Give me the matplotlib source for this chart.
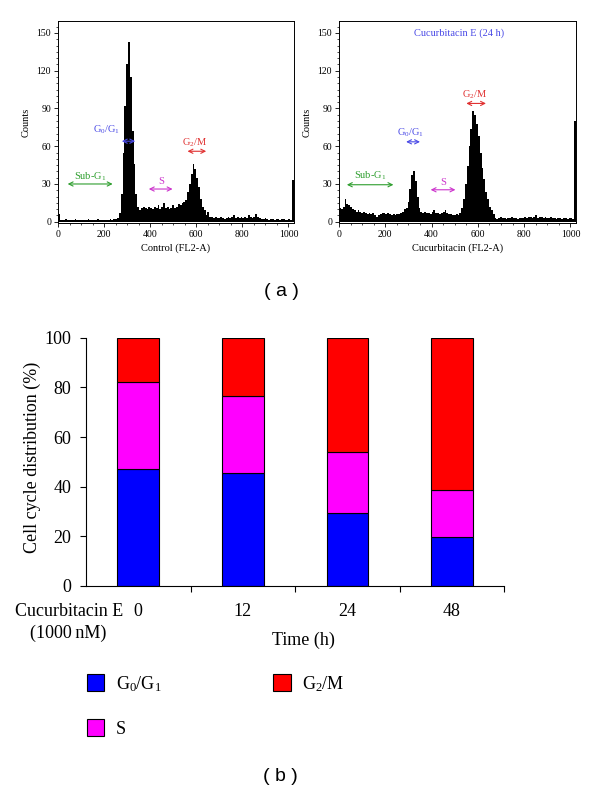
import numpy as np
import matplotlib
matplotlib.use('Agg')
import matplotlib.pyplot as plt
from matplotlib.ticker import MultipleLocator
from matplotlib.patches import Patch

plt.rcParams['font.family'] = ['Liberation Serif', 'DejaVu Serif']

# flow cytometry histograms, counts per 8-channel bin (channels 0-1024)
bin_width = 8
control_counts = ([6] +
                  [1, 1, 1, 2, 1, 1, 1, 1, 2, 1, 1, 1, 1, 1, 1, 2, 1, 1, 1, 1, 2, 1, 1, 1, 1, 1, 1, 2, 1, 2, 2] +
                  [3, 7, 22, 55, 92, 125, 143, 115, 72, 46, 22, 12] +
                  [9, 11, 12, 11, 10, 12, 11, 10, 12, 11, 13, 10, 12, 15, 11, 12, 10, 11, 13, 11, 12, 14] +
                  [13, 15, 16, 17, 24, 30, 38, 46, 42, 35, 28, 18, 12, 9, 5, 8, 4] +
                  [4, 3, 4, 3, 3, 4, 3, 2, 3, 4, 3, 4, 5, 3, 4, 3, 4, 3, 4, 3, 5, 4, 3, 4, 6, 4, 3] +
                  [2, 2, 3, 2, 1, 2, 2, 1, 2, 2, 1, 2, 2, 1, 1, 2, 1] +
                  [33])
cucurbitacin_counts = ([11, 10, 12, 18, 14, 13, 12, 10] +
                       [9, 8, 9, 8, 7, 8, 7, 6, 7, 6, 7, 5, 4] +
                       [5, 6, 7, 7, 6, 7, 6] +
                       [5, 6, 5, 6, 6, 7] +
                       [8, 10, 11, 16, 26, 37, 40, 32, 20, 11] +
                       [8, 7, 8, 7, 7, 6, 8, 9, 7, 7, 6, 7, 8, 9, 7, 6] +
                       [6, 5, 5, 6, 5] +
                       [7, 11, 18, 30, 44, 60, 74, 88, 85, 78, 68, 55, 43, 34, 24, 18, 12, 9, 6] +
                       [3, 2, 3, 4, 3, 3, 2, 3, 3, 4, 3, 3, 2, 3, 3, 3, 4, 3, 4, 4, 3, 4, 5, 3, 4,
                        4, 3, 4, 3, 3, 4, 3, 3, 2, 3, 3, 2, 3, 3, 2, 3, 3, 2] +
                       [80])

# gate markers: label, color, text x, text y, arrow start, arrow end, arrow y
control_marks = [
    ('Sub-G$\\mathregular{_1}$', '#2e9e2e', 139, 35.4, 42, 237, 30),
    ('G$\\mathregular{_0}$/G$\\mathregular{_1}$', '#4a4ae6', 211, 73, 277, 335, 64),
    ('S', '#cc33cc', 446, 32, 394, 497, 26),
    ('G$\\mathregular{_2}$/M', '#e03030', 594, 63, 562, 643, 56),
]
cucurbitacin_marks = [
    ('Sub-G$\\mathregular{_1}$', '#2e9e2e', 135, 36.5, 34, 235, 29.4),
    ('G$\\mathregular{_0}$/G$\\mathregular{_1}$', '#4a4ae6', 311, 70.4, 290, 350, 63.5),
    ('S', '#cc33cc', 450, 31, 396, 503, 25.4),
    ('G$\\mathregular{_2}$/M', '#e03030', 587, 100.8, 550, 635, 94),
]

# stacked bar data (%)
times = ['0', '12', '24', '48']
g0g1 = [47.1, 45.4, 29.5, 19.7]
s_phase = [35.2, 31.0, 24.6, 19.1]
g2m = [17.7, 23.6, 45.9, 61.2]

fig = plt.figure(figsize=(6, 7.91), dpi=100)


def draw_hist(rect, counts, xlabel, marks, title=None):
    ax = fig.add_axes(rect)
    edges = np.arange(len(counts) + 1) * bin_width
    ax.stairs(counts, edges, fill=True, color='black', baseline=0)
    ax.set_xlim(0, 1024)
    ax.set_ylim(-1, 159.5)
    ax.set_xticks([0, 200, 400, 600, 800, 1000])
    ax.set_yticks([0, 30, 60, 90, 120, 150])
    ax.xaxis.set_minor_locator(MultipleLocator(50))
    ax.yaxis.set_minor_locator(MultipleLocator(5))
    ax.tick_params(which='major', labelsize=7, length=3, width=0.6, pad=2)
    ax.tick_params(which='minor', length=1.6, width=0.5)
    for sp in ax.spines.values():
        sp.set_linewidth(0.7)
    ax.set_xlabel(xlabel, fontsize=7.5, labelpad=3)
    ax.set_ylabel('Counts', fontsize=7.5, labelpad=4)
    for label, col, tx, ty, x0, x1, ay in marks:
        ax.text(tx, ty, label, color=col, fontsize=7.5, ha='center', va='center')
        ax.annotate('', xy=(x0, ay), xytext=(x1, ay),
                    arrowprops=dict(arrowstyle='<->,head_length=0.3,head_width=0.15',
                                    color=col, lw=0.8, shrinkA=0, shrinkB=0))
    if title:
        ax.text(519, 150, title, color='#4a4ae6', fontsize=7.5, ha='center', va='center')
    return ax


draw_hist([58 / 600, 1 - 223 / 791, 236 / 600, 202 / 791], control_counts,
          'Control (FL2-A)', control_marks)
draw_hist([339 / 600, 1 - 223 / 791, 237 / 600, 202 / 791], cucurbitacin_counts,
          'Cucurbitacin (FL2-A)', cucurbitacin_marks, title='Cucurbitacin E (24 h)')

fig.text(281.7 / 600, 1 - 291.7 / 791, '( a )', family='Liberation Sans',
         fontsize=14, ha='center', va='center')

# stacked bars
ax = fig.add_axes([86 / 600, 1 - 586 / 791, 418.3 / 600, 248.3 / 791])
x = np.arange(len(times))
w = 0.4
bottom2 = np.array(g0g1) + np.array(s_phase)
ax.bar(x, g0g1, w, color='#0000ff', edgecolor='black', linewidth=0.8)
ax.bar(x, s_phase, w, bottom=g0g1, color='#ff00ff', edgecolor='black', linewidth=0.8)
ax.bar(x, g2m, w, bottom=bottom2, color='#ff0000', edgecolor='black', linewidth=0.8)
ax.set_xlim(-0.5, 3.5)
ax.set_ylim(0, 100)
ax.set_yticks([0, 20, 40, 60, 80, 100])
ax.set_xticks(x)
ax.set_xticklabels(times)
ax.set_xticks([0.5, 1.5, 2.5, 3.5], minor=True)
ax.tick_params(axis='x', which='major', length=0, pad=12, labelsize=13)
ax.tick_params(axis='x', which='minor', length=4.5, width=0.8)
ax.tick_params(axis='y', length=4.5, width=0.8, pad=6, labelsize=13)
ax.spines['top'].set_visible(False)
ax.spines['right'].set_visible(False)
ax.spines['left'].set_linewidth(0.8)
ax.spines['bottom'].set_linewidth(0.8)

fig.text(32 / 600, 1 - 457.5 / 791, 'Cell cycle distribution (%)', rotation=90,
         fontsize=13, ha='center', va='center')
fig.text(69.5 / 600, 1 - 611.7 / 791, 'Cucurbitacin E', fontsize=13, ha='center', va='center')
fig.text(68 / 600, 1 - 633 / 791, '(1000\u2009nM)', fontsize=13, ha='center', va='center',
         family=['Liberation Serif', 'DejaVu Serif'])
fig.text(303 / 600, 1 - 640 / 791, 'Time (h)', fontsize=13, ha='center', va='center')

handles = [Patch(facecolor='#0000ff', edgecolor='black', linewidth=0.8,
                 label='G$\\mathregular{_0}$/G$\\mathregular{_1}$'),
           Patch(facecolor='#ff00ff', edgecolor='black', linewidth=0.8, label='S'),
           Patch(facecolor='#ff0000', edgecolor='black', linewidth=0.8,
                 label='G$\\mathregular{_2}$/M')]
fig.legend(handles=handles, ncol=2, loc='upper left',
           bbox_to_anchor=(87 / 600, 1 - 674 / 791), frameon=False,
           fontsize=13, handlelength=0.95, handleheight=1.05, handletextpad=0.65,
           columnspacing=6.2, labelspacing=1.4, borderpad=0, borderaxespad=0)

fig.text(280 / 600, 1 - 776.7 / 791, '( b )', family='Liberation Sans',
         fontsize=14, ha='center', va='center')

fig.savefig('out.png', dpi=100)
